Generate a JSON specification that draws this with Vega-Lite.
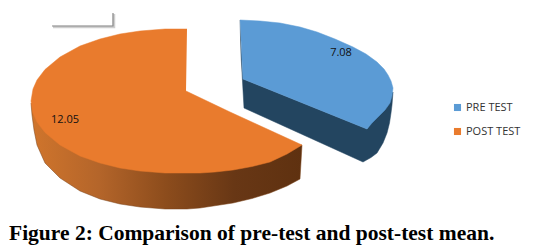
{
"$schema":"https://vega.github.io/schema/vega-lite/v6.json",
"width":536,"height":247,
"autosize":"none",
"padding":0,
"background":"white",
"view":{"stroke":null},
"datasets":{
"outline":[
{"part":"blue_side","n":1,"x":240,"y":20},{"part":"blue_side","n":2,"x":241,"y":55},{"part":"blue_side","n":3,"x":244,"y":108},{"part":"blue_side","n":4,"x":363,"y":162},{"part":"blue_side","n":5,"x":371,"y":157.5},{"part":"blue_side","n":6,"x":377,"y":153},{"part":"blue_side","n":7,"x":383,"y":143},{"part":"blue_side","n":8,"x":387,"y":133},{"part":"blue_side","n":9,"x":389.5,"y":123},{"part":"blue_side","n":10,"x":391,"y":113},{"part":"blue_side","n":11,"x":392,"y":105},{"part":"blue_side","n":12,"x":393,"y":92},{"part":"blue_side","n":13,"x":367,"y":129},{"part":"blue_side","n":14,"x":243,"y":79},
{"part":"blue_top","series":"PRE TEST","n":1,"x":240,"y":20},{"part":"blue_top","series":"PRE TEST","n":2,"x":260,"y":21},{"part":"blue_top","series":"PRE TEST","n":3,"x":280,"y":23},{"part":"blue_top","series":"PRE TEST","n":4,"x":300,"y":27},{"part":"blue_top","series":"PRE TEST","n":5,"x":317,"y":32},{"part":"blue_top","series":"PRE TEST","n":6,"x":335,"y":39},{"part":"blue_top","series":"PRE TEST","n":7,"x":353,"y":47},{"part":"blue_top","series":"PRE TEST","n":8,"x":366,"y":54},{"part":"blue_top","series":"PRE TEST","n":9,"x":377,"y":62},{"part":"blue_top","series":"PRE TEST","n":10,"x":384,"y":69},{"part":"blue_top","series":"PRE TEST","n":11,"x":388,"y":75},{"part":"blue_top","series":"PRE TEST","n":12,"x":391,"y":81},{"part":"blue_top","series":"PRE TEST","n":13,"x":393,"y":88},{"part":"blue_top","series":"PRE TEST","n":14,"x":392,"y":96},{"part":"blue_top","series":"PRE TEST","n":15,"x":390,"y":103},{"part":"blue_top","series":"PRE TEST","n":16,"x":385,"y":110},{"part":"blue_top","series":"PRE TEST","n":17,"x":378,"y":117},{"part":"blue_top","series":"PRE TEST","n":18,"x":372,"y":123},{"part":"blue_top","series":"PRE TEST","n":19,"x":367,"y":129},{"part":"blue_top","series":"PRE TEST","n":20,"x":263,"y":87},{"part":"blue_top","series":"PRE TEST","n":21,"x":243,"y":79},{"part":"blue_top","series":"PRE TEST","n":22,"x":241.5,"y":50},
{"part":"orange_side","n":1,"x":31,"y":103},{"part":"orange_side","n":2,"x":32,"y":115},{"part":"orange_side","n":3,"x":34,"y":130},{"part":"orange_side","n":4,"x":37,"y":145},{"part":"orange_side","n":5,"x":45,"y":163},{"part":"orange_side","n":6,"x":60,"y":178},{"part":"orange_side","n":7,"x":80,"y":191},{"part":"orange_side","n":8,"x":100,"y":199},{"part":"orange_side","n":9,"x":120,"y":204},{"part":"orange_side","n":10,"x":140,"y":207},{"part":"orange_side","n":11,"x":165,"y":209},{"part":"orange_side","n":12,"x":187,"y":209},{"part":"orange_side","n":13,"x":200,"y":208},{"part":"orange_side","n":14,"x":233,"y":203},{"part":"orange_side","n":15,"x":252,"y":198.5},{"part":"orange_side","n":16,"x":270,"y":193},{"part":"orange_side","n":17,"x":287,"y":186},{"part":"orange_side","n":18,"x":300,"y":179},{"part":"orange_side","n":19,"x":302,"y":145},{"part":"orange_side","n":20,"x":200,"y":150},
{"part":"orange_top","series":"POST TEST","n":1,"x":187,"y":29},{"part":"orange_top","series":"POST TEST","n":2,"x":165,"y":29},{"part":"orange_top","series":"POST TEST","n":3,"x":140,"y":31},{"part":"orange_top","series":"POST TEST","n":4,"x":120,"y":34},{"part":"orange_top","series":"POST TEST","n":5,"x":100,"y":39},{"part":"orange_top","series":"POST TEST","n":6,"x":80,"y":46},{"part":"orange_top","series":"POST TEST","n":7,"x":60,"y":57},{"part":"orange_top","series":"POST TEST","n":8,"x":45,"y":69.5},{"part":"orange_top","series":"POST TEST","n":9,"x":37,"y":80},{"part":"orange_top","series":"POST TEST","n":10,"x":33,"y":89},{"part":"orange_top","series":"POST TEST","n":11,"x":31,"y":101},{"part":"orange_top","series":"POST TEST","n":12,"x":33,"y":113},{"part":"orange_top","series":"POST TEST","n":13,"x":37,"y":122},{"part":"orange_top","series":"POST TEST","n":14,"x":45,"y":132.5},{"part":"orange_top","series":"POST TEST","n":15,"x":60,"y":145},{"part":"orange_top","series":"POST TEST","n":16,"x":80,"y":156},{"part":"orange_top","series":"POST TEST","n":17,"x":100,"y":163},{"part":"orange_top","series":"POST TEST","n":18,"x":120,"y":168},{"part":"orange_top","series":"POST TEST","n":19,"x":140,"y":171},{"part":"orange_top","series":"POST TEST","n":20,"x":165,"y":173},{"part":"orange_top","series":"POST TEST","n":21,"x":200,"y":173},{"part":"orange_top","series":"POST TEST","n":22,"x":215,"y":172},{"part":"orange_top","series":"POST TEST","n":23,"x":233,"y":170},{"part":"orange_top","series":"POST TEST","n":24,"x":252,"y":166.5},{"part":"orange_top","series":"POST TEST","n":25,"x":270,"y":162},{"part":"orange_top","series":"POST TEST","n":26,"x":287,"y":154},{"part":"orange_top","series":"POST TEST","n":27,"x":302,"y":145},{"part":"orange_top","series":"POST TEST","n":28,"x":230,"y":112},{"part":"orange_top","series":"POST TEST","n":29,"x":186,"y":91},
{"part":"box_shadow","n":1,"x":53,"y":27},{"part":"box_shadow","n":2,"x":114,"y":27},{"part":"box_shadow","n":3,"x":114,"y":14},
{"part":"box","n":1,"x":52,"y":26},{"part":"box","n":2,"x":113,"y":26},{"part":"box","n":3,"x":113,"y":13}
],
"labels":[{"label":"7.08","x":341,"y":53},{"label":"12.05","x":65,"y":120}],
"caption":[{"text":"Figure 2: Comparison of pre-test and post-test mean.","x":9,"y":234}]
},
"data":{"name":"outline"},
"layer":[
{"transform":[{"filter":"datum.part==='blue_side'"}],"mark":{"type":"line","fill":"#234560","stroke":"#234560","strokeWidth":0.5},"encoding":{"x":{"field":"x","type":"quantitative","scale":{"domain":[0,536],"nice":false,"zero":false},"axis":null},"y":{"field":"y","type":"quantitative","scale":{"domain":[247,0],"nice":false,"zero":false},"axis":null},"order":{"field":"n"}}},
{"transform":[{"filter":"datum.part==='blue_top'"}],"mark":{"type":"line","strokeWidth":0.5,"stroke":"#5B9BD5","filled":true},"encoding":{"x":{"field":"x","type":"quantitative"},"y":{"field":"y","type":"quantitative"},"order":{"field":"n"},"fill":{"field":"series","type":"nominal","sort":["PRE TEST","POST TEST"],"scale":{"domain":["PRE TEST","POST TEST"],"range":["#5B9BD5","#E97B2D"]},"legend":{"title":null,"orient":"none","legendX":452,"legendY":102,"symbolType":"square","symbolSize":50,"rowPadding":12,"labelFont":"Open Sans","labelFontSize":11,"labelOffset":3,"labelColor":"#333333","symbolStrokeWidth":0}}}},
{"transform":[{"filter":"datum.part==='orange_side'"}],"mark":{"type":"line","strokeWidth":0.5,"stroke":"#7a4218","fill":{"gradient":"linear","x1":0,"x2":1,"y1":0,"y2":0,"stops":[{"offset":0,"color":"#D0752C"},{"offset":0.25,"color":"#B4652A"},{"offset":0.5,"color":"#8C4C1C"},{"offset":0.75,"color":"#683715"},{"offset":1,"color":"#5F3110"}]}},"encoding":{"x":{"field":"x","type":"quantitative"},"y":{"field":"y","type":"quantitative"},"order":{"field":"n"}}},
{"transform":[{"filter":"datum.part==='orange_top'"}],"mark":{"type":"line","strokeWidth":0.5,"stroke":"#E97B2D","filled":true},"encoding":{"x":{"field":"x","type":"quantitative"},"y":{"field":"y","type":"quantitative"},"order":{"field":"n"},"fill":{"field":"series","type":"nominal"}}},
{"transform":[{"filter":"datum.part==='box_shadow'"}],"mark":{"type":"line","stroke":"#cfcfcf","strokeWidth":2.5},"encoding":{"x":{"field":"x","type":"quantitative"},"y":{"field":"y","type":"quantitative"},"order":{"field":"n"}}},
{"transform":[{"filter":"datum.part==='box'"}],"mark":{"type":"line","stroke":"#8a8a8a","strokeWidth":1.2},"encoding":{"x":{"field":"x","type":"quantitative"},"y":{"field":"y","type":"quantitative"},"order":{"field":"n"}}},
{"data":{"name":"labels"},"mark":{"type":"text","font":"Open Sans","fontSize":11,"color":"#111111"},"encoding":{"x":{"field":"x","type":"quantitative"},"y":{"field":"y","type":"quantitative"},"text":{"field":"label"}}},
{"data":{"name":"caption"},"mark":{"type":"text","align":"left","font":"Liberation Serif","fontWeight":"bold","fontSize":21.5,"color":"#000000"},"encoding":{"x":{"field":"x","type":"quantitative"},"y":{"field":"y","type":"quantitative"},"text":{"field":"text"}}}
]
}
